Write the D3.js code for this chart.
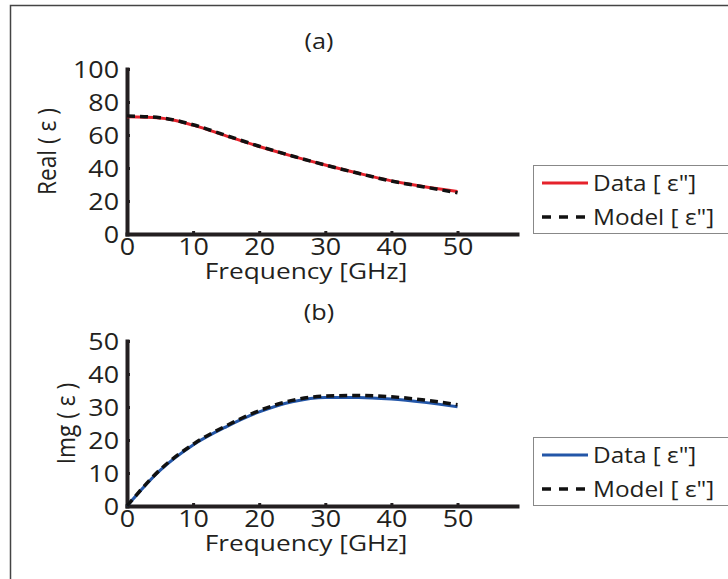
<!DOCTYPE html>
<html>
<head>
<meta charset="utf-8">
<script src="https://cdn.jsdelivr.net/npm/d3@7"></script>
<style>
  html, body { margin: 0; padding: 0; background: #fff; }
  svg { display: block; }
  text { font-family: "Open Sans", "Noto Sans", sans-serif; fill: #231f20; }
</style>
</head>
<body>
<svg id="chart" width="728" height="579"></svg>
<script>
// ---- data ----
const freq = [0, 5, 10, 15, 20, 25, 30, 35, 40, 45, 50];           // GHz
const realData  = [71.0, 70.3, 66.0, 59.5, 53.0, 47.2, 41.8, 36.8, 32.2, 28.7, 25.8];
const realModel = [71.5, 70.5, 66.2, 59.7, 53.2, 47.3, 41.8, 36.8, 32.1, 28.5, 25.0];
const imgData   = [0.0, 10.8, 18.5, 24.0, 28.5, 31.6, 32.9, 32.9, 32.4, 31.4, 30.1];
const imgModel  = [0.0, 11.0, 18.7, 24.3, 28.9, 32.0, 33.3, 33.5, 33.1, 32.1, 30.7];
const xTicks = [0, 10, 20, 30, 40, 50];
const realTicks = [0, 20, 40, 60, 80, 100];
const imgTicks = [0, 10, 20, 30, 40, 50];
const legendLabels = ['Data [ \u03b5"]', 'Model [ \u03b5"]'];

const SX = 1.2; // horizontal text stretch seen in the reference
const svg = d3.select("#chart");

function label(parent, x, y, txt, size, anchor, sx) {
  return parent.append("text")
    .attr("transform", `translate(${x},${y}) scale(${sx || SX},1)`)
    .attr("text-anchor", anchor || "middle").attr("font-size", size).text(txt);
}

// outer frame
svg.append("rect").attr("x", 10.5).attr("y", 5.5).attr("width", 900).attr("height", 900)
  .attr("fill", "none").attr("stroke", "#444").attr("stroke-width", 1.5);

function panel(opts) {
  const x = d3.scaleLinear().domain([0, 59]).range([127, 517]);
  const y = d3.scaleLinear().domain(opts.yDomain).range([opts.yBottom, opts.yTop]);
  const g = svg.append("g");

  // title
  label(g, 319, opts.titleY, opts.title, 21);

  // axes
  const xAxis = d3.axisBottom(x).tickValues(xTicks).tickSizeInner(-3).tickSizeOuter(0).tickPadding(0);
  const gx = g.append("g").attr("transform", `translate(0,${opts.yBottom})`).call(xAxis);
  const yAxis = d3.axisLeft(y).tickValues(opts.yTicks).tickSizeInner(-3).tickSizeOuter(0).tickPadding(0);
  const gy = g.append("g").attr("transform", "translate(127,0)").call(yAxis);
  [gx, gy].forEach(a => {
    a.select(".domain").attr("stroke", "#231f20").attr("stroke-width", 4).attr("stroke-linecap", "square");
    a.selectAll(".tick line").attr("stroke", "#231f20").attr("stroke-width", 3);
    a.selectAll(".tick text").attr("font-size", 24).attr("fill", "#231f20")
      .style("font-family", '"Open Sans", sans-serif');
  });
  gx.selectAll(".tick text").attr("y", 0).attr("dy", 0)
    .attr("transform", `translate(0,21) scale(1.12,1)`);
  gy.selectAll(".tick text").attr("x", 0).attr("dy", "0.36em")
    .attr("transform", `translate(-8,0) scale(1.12,1)`);

  // axis labels
  label(g, 306, opts.yBottom + 45, "Frequency [GHz]", 21, "middle", 1.25);
  g.append("text")
    .attr("transform", `translate(${opts.yLabelX},${(opts.yTop + opts.yBottom) / 2}) rotate(-90) scale(1.08,1.25)`)
    .attr("text-anchor", "middle").attr("dy", "0.35em").attr("font-size", 21).text(opts.yLabel);

  // lines
  const line = d3.line().x((d, i) => x(freq[i])).y(d => y(d)).curve(d3.curveMonotoneX);
  g.append("path").datum(opts.data).attr("d", line).attr("fill", "none")
    .attr("stroke", opts.color).attr("stroke-width", 3);
  g.append("path").datum(opts.model).attr("d", line).attr("fill", "none")
    .attr("stroke", "#111").attr("stroke-width", 3.5).attr("stroke-dasharray", "8,5");

  // legend
  const ly = opts.legendTop;
  const lg = g.append("g");
  lg.append("rect").attr("x", 533.5).attr("y", ly + 0.5).attr("width", 300).attr("height", 68)
    .attr("fill", "#fff").attr("stroke", "#888").attr("stroke-width", 1);
  lg.append("line").attr("x1", 542).attr("x2", 588).attr("y1", ly + 18).attr("y2", ly + 18)
    .attr("stroke", opts.color).attr("stroke-width", 3);
  lg.append("line").attr("x1", 542).attr("x2", 588).attr("y1", ly + 52).attr("y2", ly + 52)
    .attr("stroke", "#111").attr("stroke-width", 3.5).attr("stroke-dasharray", "9,8");
  legendLabels.forEach((t, i) => {
    label(lg, 593, ly + 18 + i * 34 + 7.5, t, 21, "start", 1.16);
  });
}

panel({
  title: "(a)", titleY: 49, yDomain: [0, 100], yTicks: realTicks, yTop: 69, yBottom: 234,
  yLabel: "Real ( \u03b5 )", yLabelX: 47, data: realData, model: realModel,
  color: "#e5222b", legendTop: 165
});
panel({
  title: "(b)", titleY: 320, yDomain: [0, 50], yTicks: imgTicks, yTop: 341, yBottom: 506,
  yLabel: "Img ( \u03b5 )", yLabelX: 66, data: imgData, model: imgModel,
  color: "#2356a8", legendTop: 437
});
</script>
</body>
</html>
